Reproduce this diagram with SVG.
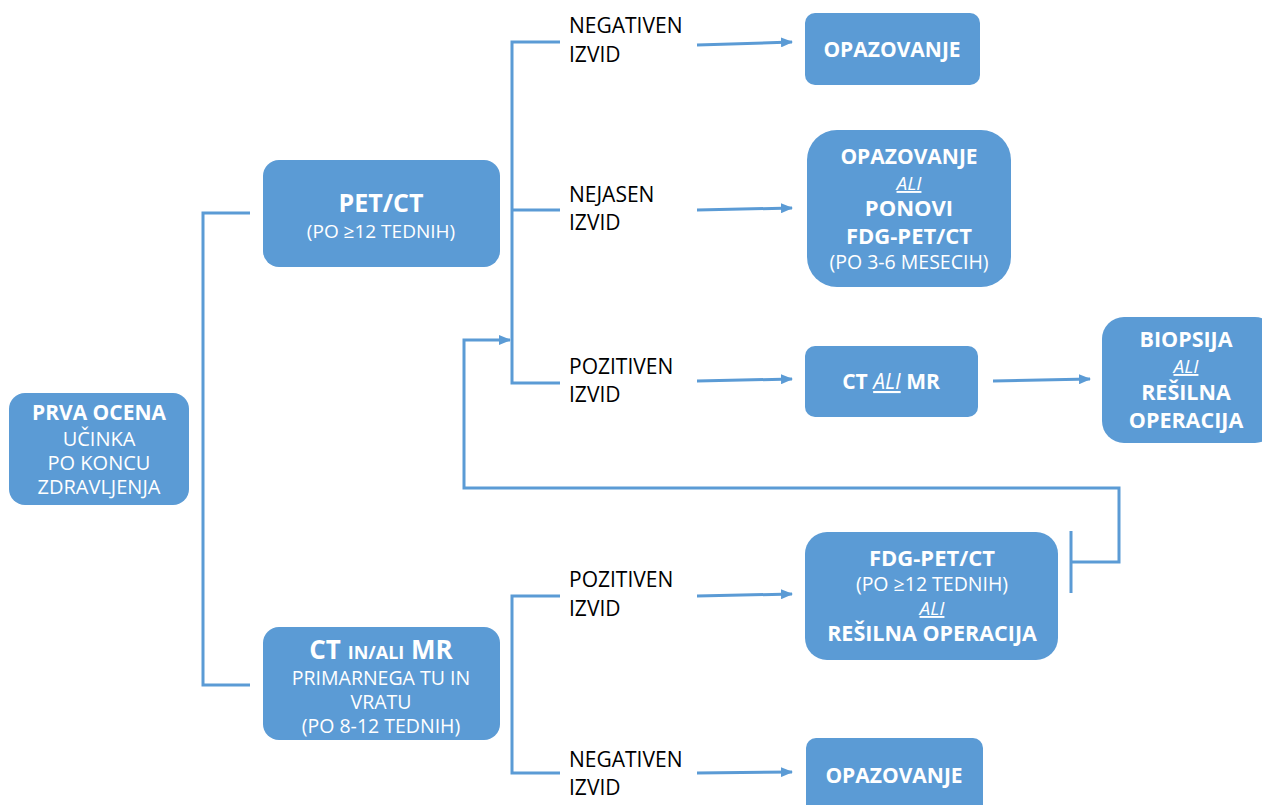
<svg xmlns="http://www.w3.org/2000/svg" width="1262" height="805" viewBox="0 0 1262 805">
<defs>
<marker id="ah" markerWidth="12" markerHeight="10" refX="11" refY="5" orient="auto" markerUnits="userSpaceOnUse">
<path d="M0,0 L12,5 L0,10 Z" fill="#5b9bd5"/>
</marker>
<style>
.box{fill:#5b9bd5;}
.wb{fill:#fff;font-family:"Open Sans","Liberation Sans",sans-serif;font-weight:bold;text-anchor:middle;}
.wn{fill:#fff;font-family:"Open Sans","Liberation Sans",sans-serif;text-anchor:middle;}
.wi{fill:#fff;font-family:"Open Sans","Liberation Sans",sans-serif;font-style:italic;text-decoration:underline;text-anchor:middle;}
.lbl{fill:#000;font-family:"Open Sans","Liberation Sans",sans-serif;font-size:21px;}
.ln{fill:none;stroke:#5b9bd5;stroke-width:3;}
</style>
</defs>
<rect width="1262" height="805" fill="#fff"/>

<g id="connectors">
<polyline class="ln" points="250,213 203,213 203,685 250,685"/>
<polyline class="ln" points="560,42 512,42 512,383 560,383"/>
<line class="ln" x1="512" y1="210" x2="560" y2="210"/>
<polyline class="ln" points="560,596 512,596 512,773 560,773"/>
<polyline class="ln" points="1071,562 1119,562 1119,488 464,488 464,340 510,340" marker-end="url(#ah)"/>
<line class="ln" x1="1071" y1="531" x2="1071" y2="593"/>
<line class="ln" x1="697" y1="45" x2="792" y2="42" marker-end="url(#ah)"/>
<line class="ln" x1="697" y1="210" x2="792" y2="208" marker-end="url(#ah)"/>
<line class="ln" x1="697" y1="381" x2="792" y2="379" marker-end="url(#ah)"/>
<line class="ln" x1="993" y1="381" x2="1090" y2="379" marker-end="url(#ah)"/>
<line class="ln" x1="697" y1="596" x2="792" y2="594" marker-end="url(#ah)"/>
<line class="ln" x1="697" y1="773" x2="792" y2="772" marker-end="url(#ah)"/>
</g>

<g id="labels">
<text class="lbl" x="569" y="33">NEGATIVEN</text><text class="lbl" x="569" y="62">IZVID</text>
<text class="lbl" x="569" y="202">NEJASEN</text><text class="lbl" x="569" y="230">IZVID</text>
<text class="lbl" x="569" y="374">POZITIVEN</text><text class="lbl" x="569" y="402">IZVID</text>
<text class="lbl" x="569" y="587">POZITIVEN</text><text class="lbl" x="569" y="616">IZVID</text>
<text class="lbl" x="569" y="767">NEGATIVEN</text><text class="lbl" x="569" y="795">IZVID</text>
</g>

<g id="prva">
<rect class="box" x="9" y="393" width="180" height="112" rx="16"/>
<text class="wb" x="99" y="420" font-size="21">PRVA OCENA</text>
<text class="wn" x="99" y="446" font-size="20">UČINKA</text>
<text class="wn" x="99" y="470" font-size="20">PO KONCU</text>
<text class="wn" x="99" y="494" font-size="20">ZDRAVLJENJA</text>
</g>

<g id="petct">
<rect class="box" x="263" y="160" width="237" height="107" rx="16"/>
<text class="wb" x="381" y="212" font-size="25">PET/CT</text>
<text class="wn" x="381" y="238" font-size="19">(PO ≥12 TEDNIH)</text>
</g>

<g id="ctmr">
<rect class="box" x="263" y="627" width="237" height="113" rx="16"/>
<text class="wb" x="381" y="659" font-size="26">CT <tspan font-size="18">IN/ALI</tspan> MR</text>
<text class="wn" x="381" y="685" font-size="19.5">PRIMARNEGA TU IN</text>
<text class="wn" x="381" y="709" font-size="19.5">VRATU</text>
<text class="wn" x="381" y="733" font-size="19.5">(PO 8-12 TEDNIH)</text>
</g>

<g id="opaz1">
<rect class="box" x="805" y="13" width="175" height="72" rx="10"/>
<text class="wb" x="892" y="57" font-size="21">OPAZOVANJE</text>
</g>

<g id="opaz2">
<rect class="box" x="807" y="130" width="204" height="157" rx="30"/>
<text class="wb" x="909" y="164" font-size="21">OPAZOVANJE</text>
<text class="wi" x="909" y="190" font-size="19">ALI</text>
<text class="wb" x="909" y="216" font-size="22">PONOVI</text>
<text class="wb" x="909" y="244" font-size="22">FDG-PET/CT</text>
<text class="wn" x="909" y="269" font-size="19.5">(PO 3-6 MESECIH)</text>
</g>

<g id="ctalimr">
<rect class="box" x="805" y="346" width="173" height="71" rx="10"/>
<text class="wb" x="891" y="389" font-size="21">CT <tspan font-style="italic" font-weight="normal" text-decoration="underline">ALI</tspan> MR</text>
</g>

<g id="biopsija">
<rect class="box" x="1102" y="317" width="175" height="126" rx="22"/>
<text class="wb" x="1186" y="347" font-size="21.5">BIOPSIJA</text>
<text class="wi" x="1186" y="373" font-size="19">ALI</text>
<text class="wb" x="1186" y="400" font-size="21.5">REŠILNA</text>
<text class="wb" x="1186" y="428" font-size="21.5">OPERACIJA</text>
</g>

<g id="fdg">
<rect class="box" x="805" y="532" width="253" height="128" rx="22"/>
<text class="wb" x="932" y="566" font-size="22">FDG-PET/CT</text>
<text class="wn" x="932" y="591" font-size="19.5">(PO ≥12 TEDNIH)</text>
<text class="wi" x="932" y="615" font-size="19">ALI</text>
<text class="wb" x="932" y="641" font-size="21.5">REŠILNA OPERACIJA</text>
</g>

<g id="opaz3">
<rect class="box" x="806" y="738" width="177" height="80" rx="10"/>
<text class="wb" x="894" y="783" font-size="21">OPAZOVANJE</text>
</g>
</svg>
